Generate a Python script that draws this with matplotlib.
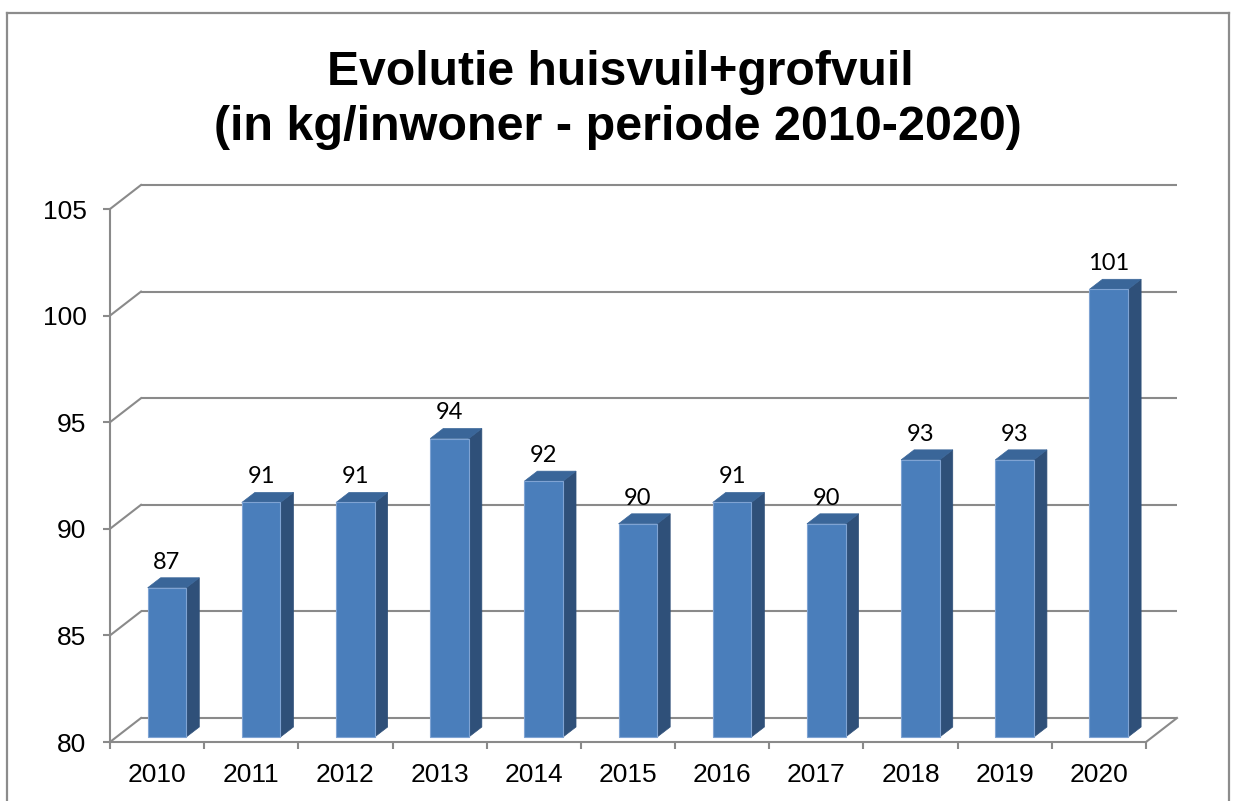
import matplotlib
matplotlib.use("Agg")
import matplotlib.pyplot as plt
from matplotlib.patches import Polygon
from matplotlib.lines import Line2D

# ---- data ----
years = ["2010", "2011", "2012", "2013", "2014", "2015", "2016", "2017", "2018", "2019", "2020"]
values = [87, 91, 91, 94, 92, 90, 91, 90, 93, 93, 101]
yticks = [80, 85, 90, 95, 100, 105]
title_line1 = "Evolutie huisvuil+grofvuil"
title_line2 = "(in kg/inwoner - periode 2010-2020)"

# ---- style / geometry ----
W, H = 1235, 801
fig = plt.figure(figsize=(W / 100, H / 100), dpi=100)
fig.patch.set_facecolor("white")

ax_left, ax_right, ax_top, ax_bot = 110, 1146, 209, 742
ax = fig.add_axes([ax_left / W, (H - ax_bot) / H, (ax_right - ax_left) / W, (ax_bot - ax_top) / H])
n = len(years)
ymin, ymax = yticks[0], yticks[-1]
ax.set_xlim(0, n)
ax.set_ylim(ymin, ymax)
ax.patch.set_alpha(0)

px_x = (ax_right - ax_left) / n          # pixels per category
px_y = (ax_bot - ax_top) / (ymax - ymin)  # pixels per value unit
DX, DY = 31 / px_x, 24 / px_y            # depth of the 3D box
grid_col = "#8a8a8a"
lw = 1.5

# back wall gridlines + left diagonals
for v in yticks:
    ax.plot([DX, n + DX], [v + DY, v + DY], color=grid_col, lw=lw, clip_on=False, zorder=1,
            solid_capstyle="butt")
    ax.plot([0, DX], [v, v + DY], color=grid_col, lw=lw, clip_on=False, zorder=1)
# right floor diagonal
ax.plot([n, n + DX], [ymin, ymin + DY], color=grid_col, lw=lw, clip_on=False, zorder=1)

# bars
bar_x0, bar_w = 0.40, 0.41
base_off = 5 / px_y
sx, sy = 13 / px_x, 10 / px_y
c_front, c_side, c_top = "#4A7EBB", "#2F5079", "#3A6699"
for i, v in enumerate(values):
    x0 = i + bar_x0
    x1 = x0 + bar_w
    yb = ymin + base_off
    yt = v + base_off
    ax.add_patch(Polygon([(x1, yb), (x1 + sx, yb + sy), (x1 + sx, yt + sy), (x1, yt)],
                         closed=True, facecolor=c_side, edgecolor=c_side, lw=0.5,
                         clip_on=False, zorder=3))
    ax.add_patch(Polygon([(x0, yt), (x1, yt), (x1 + sx, yt + sy), (x0 + sx, yt + sy)],
                         closed=True, facecolor=c_top, edgecolor=c_top, lw=0.5,
                         clip_on=False, zorder=3))
    ax.add_patch(Polygon([(x0, yb), (x1, yb), (x1, yt), (x0, yt)],
                         closed=True, facecolor=c_front, edgecolor="#7FA3D3", lw=0.8,
                         clip_on=False, zorder=4))
    ax.annotate(str(v), xy=((x0 + x1) / 2, yt + sy), xytext=(0, 6.5),
                textcoords="offset points", ha="center", va="baseline",
                fontsize=17, family="Lato", color="black", zorder=5,
                annotation_clip=False)

# axes spines and ticks
for s in ["top", "right"]:
    ax.spines[s].set_visible(False)
for s in ["left", "bottom"]:
    ax.spines[s].set_color(grid_col)
    ax.spines[s].set_linewidth(lw)
    ax.spines[s].set_zorder(2)

ax.set_yticks(yticks)
ax.set_yticklabels([str(t) for t in yticks], fontsize=19, family="Liberation Sans")
ax.tick_params(axis="y", length=5, width=lw, color=grid_col, pad=12)

ax.set_xticks(range(n + 1))
ax.set_xticklabels([""] * (n + 1))
ax.set_xticks([i + 0.5 for i in range(n)], minor=True)
ax.set_xticklabels(years, minor=True, fontsize=19, family="Liberation Sans")
ax.tick_params(axis="x", which="major", length=5, width=lw, color=grid_col)
ax.tick_params(axis="x", which="minor", length=0, pad=15)

# title
fig.text(620 / W, 1 - 85 / H, title_line1, ha="center", va="baseline", fontsize=34.6,
         fontweight="bold", family="Liberation Sans")
fig.text(618 / W, 1 - 140 / H, title_line2, ha="center", va="baseline", fontsize=34.9,
         fontweight="bold", family="Liberation Sans")

# chart border
bc = "#8c8c8c"
fig.add_artist(Line2D([7 / W, 7 / W], [0, 1 - 13 / H], color=bc, lw=1.6, transform=fig.transFigure))
fig.add_artist(Line2D([1229 / W, 1229 / W], [0, 1 - 13 / H], color=bc, lw=1.6, transform=fig.transFigure))
fig.add_artist(Line2D([7 / W, 1229 / W], [1 - 13 / H, 1 - 13 / H], color=bc, lw=1.6, transform=fig.transFigure))

fig.savefig("out.png", dpi=100)
